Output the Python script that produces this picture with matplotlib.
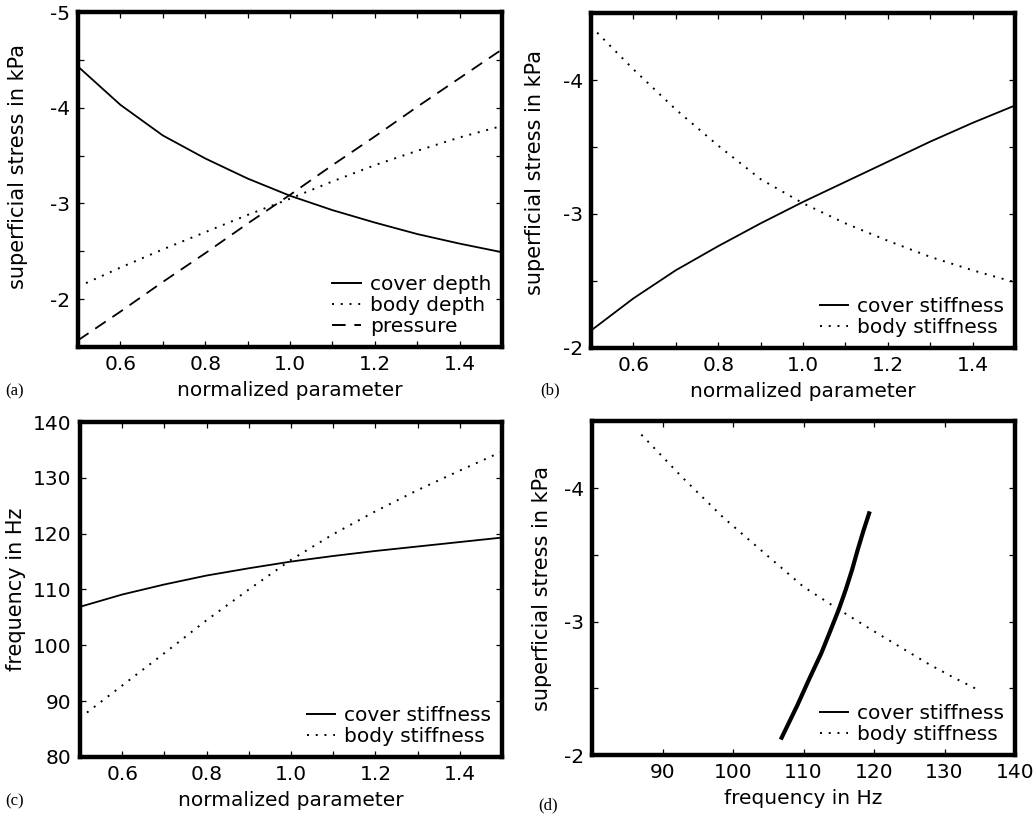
import matplotlib
matplotlib.use("Agg")
import matplotlib.pyplot as plt
from matplotlib.ticker import MultipleLocator, FixedLocator, FormatStrFormatter

plt.rcParams['font.family'] = ['DejaVu Sans']
plt.rcParams['axes.unicode_minus'] = False

# normalized parameter (x axis of panels a, b, c)
param = [0.5, 0.6, 0.7, 0.8, 0.9, 1.0, 1.1, 1.2, 1.3, 1.4, 1.5]

# (a) superficial stress in kPa, depth / pressure variation
stress_cover_depth = [-4.43, -4.03, -3.71, -3.47, -3.26, -3.08, -2.93, -2.80, -2.68, -2.58, -2.49]
stress_body_depth = [-2.13, -2.33, -2.52, -2.70, -2.88, -3.05, -3.23, -3.40, -3.55, -3.69, -3.81]
stress_pressure = [-1.57, -1.87, -2.18, -2.48, -2.79, -3.09, -3.40, -3.70, -4.01, -4.31, -4.61]

# (b) superficial stress in kPa, stiffness variation
stress_cover_stiff = [-2.13, -2.37, -2.58, -2.76, -2.93, -3.09, -3.24, -3.39, -3.54, -3.68, -3.81]
stress_body_stiff = [-4.40, -4.08, -3.78, -3.51, -3.26, -3.08, -2.93, -2.80, -2.68, -2.58, -2.49]

# (c) frequency in Hz, stiffness variation
freq_cover_stiff = [106.9, 109.1, 110.9, 112.5, 113.8, 115.0, 116.0, 116.9, 117.7, 118.5, 119.3]
freq_body_stiff = [87.0, 92.8, 98.6, 104.5, 110.0, 115.3, 119.9, 124.0, 127.8, 131.3, 134.7]

FS = 14.5
DOTTED = (0, (1, 3.5))
DASHED = (0, (7, 4.5))

fig = plt.figure(figsize=(10.35, 8.18), dpi=100)
ax_a = fig.add_axes([0.0754, 0.5758, 0.4097, 0.4095])
ax_b = fig.add_axes([0.5710, 0.5746, 0.4097, 0.4095])
ax_c = fig.add_axes([0.0773, 0.0746, 0.4077, 0.4095])
ax_d = fig.add_axes([0.5720, 0.0770, 0.4087, 0.4080])


def style_axes(ax):
    for sp in ax.spines.values():
        sp.set_linewidth(3.2)
    ax.tick_params(which='both', direction='in', top=True, right=True,
                   length=4, width=0.9, labelsize=FS, pad=6)


def param_xaxis(ax):
    ax.set_xlim(0.5, 1.5)
    ax.xaxis.set_major_locator(FixedLocator([0.6, 0.8, 1.0, 1.2, 1.4]))
    ax.xaxis.set_minor_locator(MultipleLocator(0.1))
    ax.xaxis.set_major_formatter(FormatStrFormatter('%.1f'))
    ax.set_xlabel('normalized parameter', fontsize=FS, labelpad=5)


def stress_yaxis(ax, bottom, top):
    ax.set_ylim(bottom, top)
    ax.yaxis.set_major_locator(MultipleLocator(1))
    ax.yaxis.set_minor_locator(MultipleLocator(0.5))
    ax.yaxis.set_major_formatter(FormatStrFormatter('%d'))
    ax.set_ylabel('superficial stress in kPa', fontsize=15, labelpad=8)


def add_legend(ax):
    leg = ax.legend(loc='lower right', frameon=False, fontsize=FS, handlelength=1.4,
                    handletextpad=0.45, labelspacing=0.1, borderaxespad=0.15)
    for ln in leg.get_lines():
        ln.set_linewidth(1.4)
    return leg


# (a)
ax_a.plot(param, stress_cover_depth, color='black', lw=1.3, label='cover depth')
ax_a.plot(param, stress_body_depth, color='black', lw=1.4, ls=DOTTED, label='body depth')
ax_a.plot(param, stress_pressure, color='black', lw=1.3, ls=DASHED, label='pressure')
param_xaxis(ax_a)
stress_yaxis(ax_a, -1.5, -5)
ax_a.yaxis.set_label_coords(-0.118, 0.54)
add_legend(ax_a)
style_axes(ax_a)

# (b)
ax_b.plot(param, stress_cover_stiff, color='black', lw=1.3, label='cover stiffness')
ax_b.plot(param, stress_body_stiff, color='black', lw=1.4, ls=DOTTED, label='body stiffness')
param_xaxis(ax_b)
stress_yaxis(ax_b, -2, -4.5)
ax_b.yaxis.set_label_coords(-0.108, 0.525)
add_legend(ax_b)
style_axes(ax_b)

# (c)
ax_c.plot(param, freq_cover_stiff, color='black', lw=1.3, label='cover stiffness')
ax_c.plot(param, freq_body_stiff, color='black', lw=1.4, ls=DOTTED, label='body stiffness')
param_xaxis(ax_c)
ax_c.set_ylim(80, 140)
ax_c.yaxis.set_major_locator(MultipleLocator(10))
ax_c.set_ylabel('frequency in Hz', fontsize=15, labelpad=5)
add_legend(ax_c)
style_axes(ax_c)

# (d) stress against frequency for the stiffness variations
ax_d.plot(freq_cover_stiff, stress_cover_stiff, color='black', lw=3, label='cover stiffness')
ax_d.plot(freq_body_stiff, stress_body_stiff, color='black', lw=1.4, ls=DOTTED, label='body stiffness')
ax_d.set_xlim(80, 140)
ax_d.xaxis.set_major_locator(FixedLocator([90, 100, 110, 120, 130, 140]))
ax_d.set_xlabel('frequency in Hz', fontsize=FS, labelpad=5)
stress_yaxis(ax_d, -2, -4.5)
add_legend(ax_d)
style_axes(ax_d)

# panel letters
for x, y, s in [(0.005, 0.522, '(a)'), (0.522, 0.523, '(b)'),
                (0.005, 0.020, '(c)'), (0.520, 0.016, '(d)')]:
    fig.text(x, y, s, fontsize=12, va='center', ha='left',
             family=['Liberation Serif', 'DejaVu Serif'])

fig.savefig('out.png', dpi=100)
